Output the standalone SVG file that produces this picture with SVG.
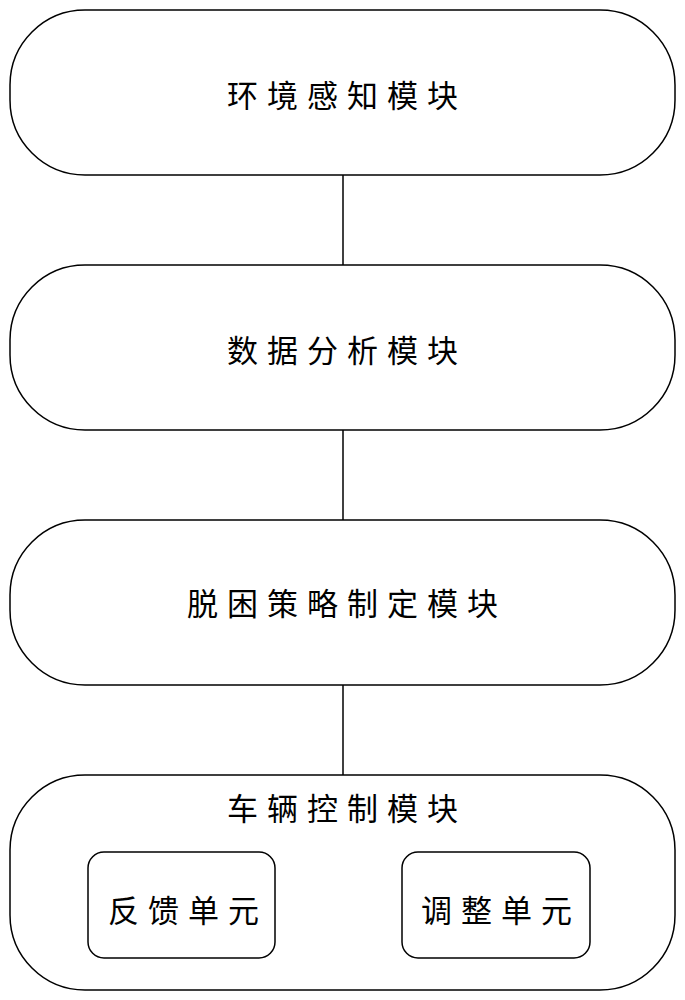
<svg xmlns="http://www.w3.org/2000/svg" width="685" height="1000" viewBox="0 0 685 1000">
<style>
.b{fill:#fff;stroke:#000;stroke-width:1.5}
.t{font-family:"Noto Sans CJK SC",sans-serif;font-size:31px;text-anchor:middle;dominant-baseline:central;letter-spacing:9px}
.c{stroke:#000;stroke-width:1.5}
</style>
<rect width="685" height="1000" fill="#fff"/>
<g id="connectors">
<line class="c" x1="343" y1="175" x2="343" y2="265"/>
<line class="c" x1="343" y1="430" x2="343" y2="520"/>
<line class="c" x1="343" y1="685" x2="343" y2="775"/>
</g>
<g id="n1"><rect class="b" x="10" y="10" width="665" height="165" rx="75"/><text class="t" x="347" y="93">环境感知模块</text></g>
<g id="n2"><rect class="b" x="10" y="265" width="665" height="165" rx="75"/><text class="t" x="347" y="348">数据分析模块</text></g>
<g id="n3"><rect class="b" x="10" y="520" width="665" height="165" rx="75"/><text class="t" x="347" y="601">脱困策略制定模块</text></g>
<g id="n4"><rect class="b" x="10" y="775" width="665" height="215" rx="75"/><text class="t" x="347" y="806">车辆控制模块</text></g>
<g id="n5"><rect class="b" x="88" y="852" width="187" height="106" rx="16"/><text class="t" x="188" y="908">反馈单元</text></g>
<g id="n6"><rect class="b" x="402" y="852" width="188" height="106" rx="16"/><text class="t" x="501" y="908">调整单元</text></g>
</svg>
